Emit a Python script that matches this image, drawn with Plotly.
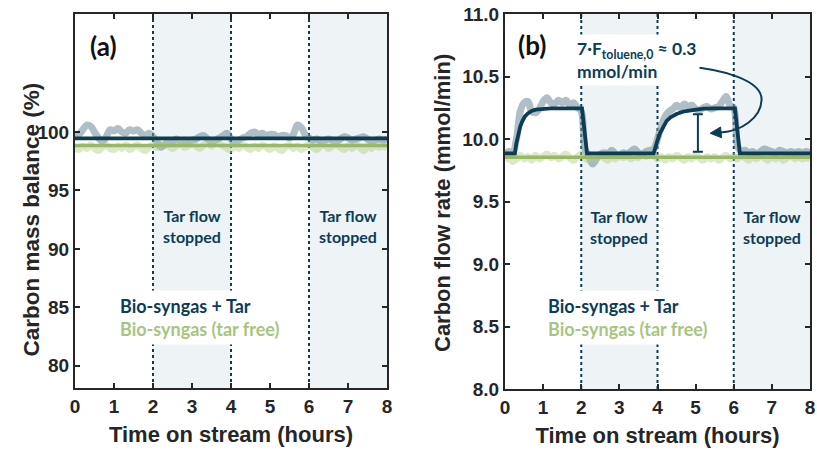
import numpy as np
import plotly.graph_objects as go

# ---------------- data ----------------
# sampling grid of the measured signals (hours)
time_h = np.round(np.arange(0, 81) * 0.1, 1)

# (a) carbon mass balance (%), measured
cmb_tar = [99.7, 99.8, 100.2, 100.6, 100.5, 100.0, 99.5, 99.2, 99.6, 100.2,
           100.1, 100.3, 100.0, 99.9, 100.2, 100.1, 100.2, 99.9, 99.7, 99.9,
           99.6, 99.2, 98.7, 98.9, 99.3, 99.2, 99.4, 99.2, 99.3, 99.1,
           99.3, 99.4, 99.6, 99.7, 99.4, 99.2, 99.3, 99.5, 99.7, 99.9,
           99.4, 99.0, 99.3, 99.5, 99.6, 99.9, 100.0, 99.8, 99.9, 99.7,
           99.8, 99.8, 99.6, 99.7, 99.7, 99.5, 99.8, 100.6, 100.4, 99.8,
           99.5, 99.3, 99.4, 99.2, 99.3, 99.4, 99.3, 99.2, 99.4, 99.6,
           99.5, 99.3, 99.4, 99.5, 99.6, 99.4, 99.2, 99.3, 99.4, 99.3, 99.4]
cmb_free = [98.7, 98.5, 98.8, 98.6, 98.9, 98.6, 98.4, 98.7, 98.9, 98.6,
            98.5, 98.8, 98.6, 98.9, 98.5, 98.7, 98.9, 98.6, 98.4, 98.7,
            98.9, 98.7, 98.9, 99.0, 98.8, 98.6, 98.8, 99.0, 98.7, 98.8,
            99.0, 98.8, 98.6, 98.9, 99.1, 98.8, 99.2, 99.0, 98.8, 98.6,
            98.5, 98.8, 98.6, 98.9, 98.7, 98.5, 98.8, 98.6, 98.9, 98.7,
            98.5, 98.8, 98.6, 98.4, 98.7, 98.9, 98.6, 98.8, 98.5, 98.7,
            98.9, 98.7, 98.5, 98.8, 98.9, 98.6, 98.8, 98.9, 98.7, 98.5,
            98.8, 98.6, 98.9, 98.7, 98.4, 98.8, 98.6, 98.9, 98.7, 98.8, 98.6]
# (a) mean levels
cmb_fit_t = [0, 8]
cmb_fit_tar = [99.45, 99.45]
cmb_fit_free = [98.85, 98.85]

# (b) carbon flow rate (mmol/min), measured
cfr_tar = [9.88, 9.90, 9.89, 10.00, 10.22, 10.29, 10.30, 10.22, 10.21, 10.24,
           10.30, 10.33, 10.29, 10.28, 10.31, 10.29, 10.31, 10.27, 10.29, 10.25,
           10.22, 9.92, 9.86, 9.80, 9.84, 9.88, 9.89, 9.88, 9.91, 9.88,
           9.87, 9.89, 9.88, 9.90, 9.92, 9.89, 9.88, 9.90, 9.91, 9.92,
           10.00, 10.10, 10.18, 10.22, 10.24, 10.27, 10.25, 10.28, 10.26, 10.27,
           10.24, 10.23, 10.25, 10.26, 10.24, 10.25, 10.26, 10.30, 10.34, 10.27,
           10.25, 9.95, 9.90, 9.91, 9.89, 9.90, 9.88, 9.90, 9.92, 9.91,
           9.90, 9.89, 9.91, 9.90, 9.89, 9.90, 9.89, 9.90, 9.89, 9.90, 9.89]
cfr_free = [9.83, 9.85, 9.82, 9.84, 9.87, 9.84, 9.86, 9.83, 9.87, 9.84,
            9.86, 9.88, 9.85, 9.87, 9.84, 9.86, 9.88, 9.85, 9.83, 9.86,
            9.88, 9.85, 9.83, 9.86, 9.84, 9.87, 9.85, 9.83, 9.86, 9.84,
            9.87, 9.85, 9.87, 9.84, 9.86, 9.85, 9.88, 9.86, 9.89, 9.87,
            9.84, 9.86, 9.83, 9.86, 9.84, 9.87, 9.85, 9.83, 9.86, 9.84,
            9.87, 9.85, 9.83, 9.86, 9.84, 9.86, 9.83, 9.85, 9.87, 9.84,
            9.86, 9.84, 9.87, 9.85, 9.83, 9.86, 9.84, 9.87, 9.85, 9.83,
            9.86, 9.84, 9.86, 9.83, 9.85, 9.87, 9.84, 9.86, 9.84, 9.85, 9.84]
# (b) step-response fit of the tar-laden run
cfr_fit_t = [0.0, 0.26, 0.30, 0.35, 0.40, 0.45, 0.52, 0.60, 0.70, 0.80, 1.00, 1.20,
             2.02, 2.15, 3.90, 3.95, 4.00, 4.07, 4.15, 4.24, 4.35, 4.50, 4.70,
             4.94, 5.20, 5.50, 6.03, 6.16, 8.0]
cfr_fit_tar = [9.885, 9.885, 9.97, 10.04, 10.10, 10.14, 10.18, 10.205, 10.225, 10.235,
               10.243, 10.245, 10.245, 9.885, 9.885, 9.95, 9.99, 10.05, 10.10, 10.145,
               10.175, 10.20, 10.222, 10.235, 10.243, 10.245, 10.245, 9.885, 9.885]
cfr_fit_free_t = [0, 8]
cfr_fit_free = [9.855, 9.855]

# toluene contribution bracket (mmol/min)
bracket_t = [5.06]
bracket_low = 9.898
bracket_span = 0.3

# periods with the tar feed switched off (hours)
stop_periods = [(2, 4), (6, 8)]
switch_times = [2, 4, 6]

x_ticks = [0, 1, 2, 3, 4, 5, 6, 7, 8]
ya_ticks = [80, 85, 90, 95, 100]
yb_ticks = [8.0, 8.5, 9.0, 9.5, 10.0, 10.5, 11.0]

# ---------------- styling ----------------
NAVY = "#0d3c55"
GREEN = "#98b864"
GREEN_TXT = "#a9c47f"
BAND_TAR = "rgba(118,143,158,0.58)"
BAND_FREE = "rgba(175,205,135,0.45)"
SHADE = "#eef3f5"
AXIS = "#262626"
TXT_FONT = "Lato"
AX_FONT = "Liberation Sans, Arial"

fig = go.Figure()


def add_panel(xa, ya, tar, free, fit_t, fit_tar, free_t, fit_free):
    fig.add_trace(go.Scatter(x=time_h, y=tar, mode="lines", line=dict(color=BAND_TAR, width=7, shape="spline"),
                             xaxis=xa, yaxis=ya, showlegend=False, hoverinfo="skip"))
    fig.add_trace(go.Scatter(x=time_h, y=free, mode="lines", line=dict(color=BAND_FREE, width=7, shape="spline"),
                             xaxis=xa, yaxis=ya, showlegend=False, hoverinfo="skip"))
    fig.add_trace(go.Scatter(x=free_t, y=fit_free, mode="lines", line=dict(color=GREEN, width=3.5),
                             xaxis=xa, yaxis=ya, showlegend=False))
    fig.add_trace(go.Scatter(x=fit_t, y=fit_tar, mode="lines", line=dict(color=NAVY, width=3.8),
                             xaxis=xa, yaxis=ya, showlegend=False))


add_panel("x", "y", cmb_tar, cmb_free, cmb_fit_t, cmb_fit_tar, cmb_fit_t, cmb_fit_free)
add_panel("x2", "y2", cfr_tar, cfr_free, cfr_fit_t, cfr_fit_tar, cfr_fit_free_t, cfr_fit_free)

# I-beam marking the toluene carbon contribution
fig.add_trace(go.Scatter(
    x=bracket_t, y=[bracket_low + bracket_span / 2], mode="markers",
    marker=dict(size=1, color="rgba(0,0,0,0)"),
    error_y=dict(type="data", array=[bracket_span / 2], color=NAVY, thickness=2, width=5),
    xaxis="x2", yaxis="y2", showlegend=False, hoverinfo="skip"))

shapes = []
for xr, yr in (("x", "y"), ("x2", "y2")):
    for x0, x1 in stop_periods:
        shapes.append(dict(type="rect", xref=xr, yref=f"{yr} domain", x0=x0, x1=x1, y0=0, y1=1,
                           fillcolor=SHADE, line=dict(width=0), layer="below"))
    for xs in switch_times:
        shapes.append(dict(type="line", xref=xr, yref=f"{yr} domain", x0=xs, x1=xs, y0=0, y1=1,
                           line=dict(color=NAVY, width=2, dash="dot"), layer="below"))

# curved pointer from the label to the bracket, with a filled head
shapes.append(dict(type="path", xref="x2", yref="y2",
                   path="M 4.77,10.578 C 5.7,10.56 6.75,10.47 6.73,10.312 "
                        "C 6.71,10.17 6.2,10.06 5.66,10.053",
                   line=dict(color=NAVY, width=2), layer="above"))
shapes.append(dict(type="path", xref="x2", yref="y2",
                   path="M 5.38,10.046 L 5.68,10.010 L 5.655,10.096 Z",
                   fillcolor=NAVY, line=dict(color=NAVY, width=1), layer="above"))

txt = dict(family=TXT_FONT, weight="bold")
title_font = dict(family=AX_FONT, weight="bold", size=22, color=AXIS)

annotations = [
    dict(xref="x", yref="y", x=0.72, y=107.35, text="(a)", showarrow=False,
         font=dict(family=TXT_FONT, weight="bold", size=26, color="#111111")),
    dict(xref="x2", yref="y2", x=0.71, y=10.75, text="(b)", showarrow=False,
         font=dict(family=TXT_FONT, weight="bold", size=26, color="#111111")),
    # y-axis titles
    dict(xref="paper", yref="paper", x=16 / 817, y=(453 - 220) / 453, text="Carbon mass balance (%)",
         textangle=-90, showarrow=False, font=dict(title_font, size=22.5)),
    dict(xref="paper", yref="paper", x=443 / 817, y=(453 - 203) / 453, text="Carbon flow rate (mmol/min)",
         textangle=-90, showarrow=False, font=title_font),
]
for xr, yr, yv in (("x", "y", 91.92), ("x2", "y2", 9.30)):
    for xc in (3, 7):
        annotations.append(dict(xref=xr, yref=yr, x=xc, y=yv, text="Tar flow<br>stopped", showarrow=False,
                                font=dict(**txt, size=16, color=NAVY)))
legend_txt = (f"<span style='color:{NAVY}'>Bio-syngas + Tar</span><br>"
              f"<span style='color:{GREEN_TXT}'>Bio-syngas (tar free)</span>")
annotations.append(dict(xref="x", yref="y", x=1.03, y=84.15, xanchor="left", yanchor="middle",
                        text=legend_txt, align="left", showarrow=False, bgcolor="white", borderpad=4,
                        font=dict(**txt, size=18)))
annotations.append(dict(xref="x2", yref="y2", x=1.0, y=8.572, xanchor="left", yanchor="middle",
                        text=legend_txt, align="left", showarrow=False, bgcolor="white", borderpad=4,
                        font=dict(**txt, size=18)))
annotations.append(dict(xref="x2", yref="y2", x=1.78, y=10.632, xanchor="left", yanchor="middle",
                        text="7·F<sub>toluene,0</sub> ≈ 0.3<br>mmol/min", align="left", showarrow=False,
                        bgcolor="white", borderpad=3, font=dict(**txt, size=17.5, color=NAVY)))

axis_common = dict(showline=True, linecolor=AXIS, linewidth=2, mirror="ticks", ticks="inside",
                   ticklen=5, tickwidth=1.5, tickcolor=AXIS, showgrid=False, zeroline=False,
                   tickfont=dict(family=AX_FONT, weight="bold", size=19, color=AXIS),
                   automargin=False)

fig.update_layout(
    width=817, height=453, margin=dict(l=0, r=0, t=0, b=0),
    paper_bgcolor="white", plot_bgcolor="white", showlegend=False,
    xaxis=dict(**axis_common, domain=[75 / 817, 387 / 817], range=[0, 8], tickvals=x_ticks,
               anchor="y", title=dict(text="Time on stream (hours)", font=title_font, standoff=11)),
    yaxis=dict(**axis_common, domain=[65 / 453, 439 / 453], range=[78.1, 110.1], tickvals=ya_ticks,
               anchor="x"),
    xaxis2=dict(**axis_common, domain=[505 / 817, 810 / 817], range=[0, 8], tickvals=x_ticks,
                anchor="y2", title=dict(text="Time on stream (hours)", font=title_font, standoff=11)),
    yaxis2=dict(**axis_common, domain=[64 / 453, 439 / 453], range=[8.0, 11.0], tickvals=yb_ticks,
                tickformat=".1f", anchor="x2"),
    shapes=shapes, annotations=annotations,
)

fig.write_html("out.html")
